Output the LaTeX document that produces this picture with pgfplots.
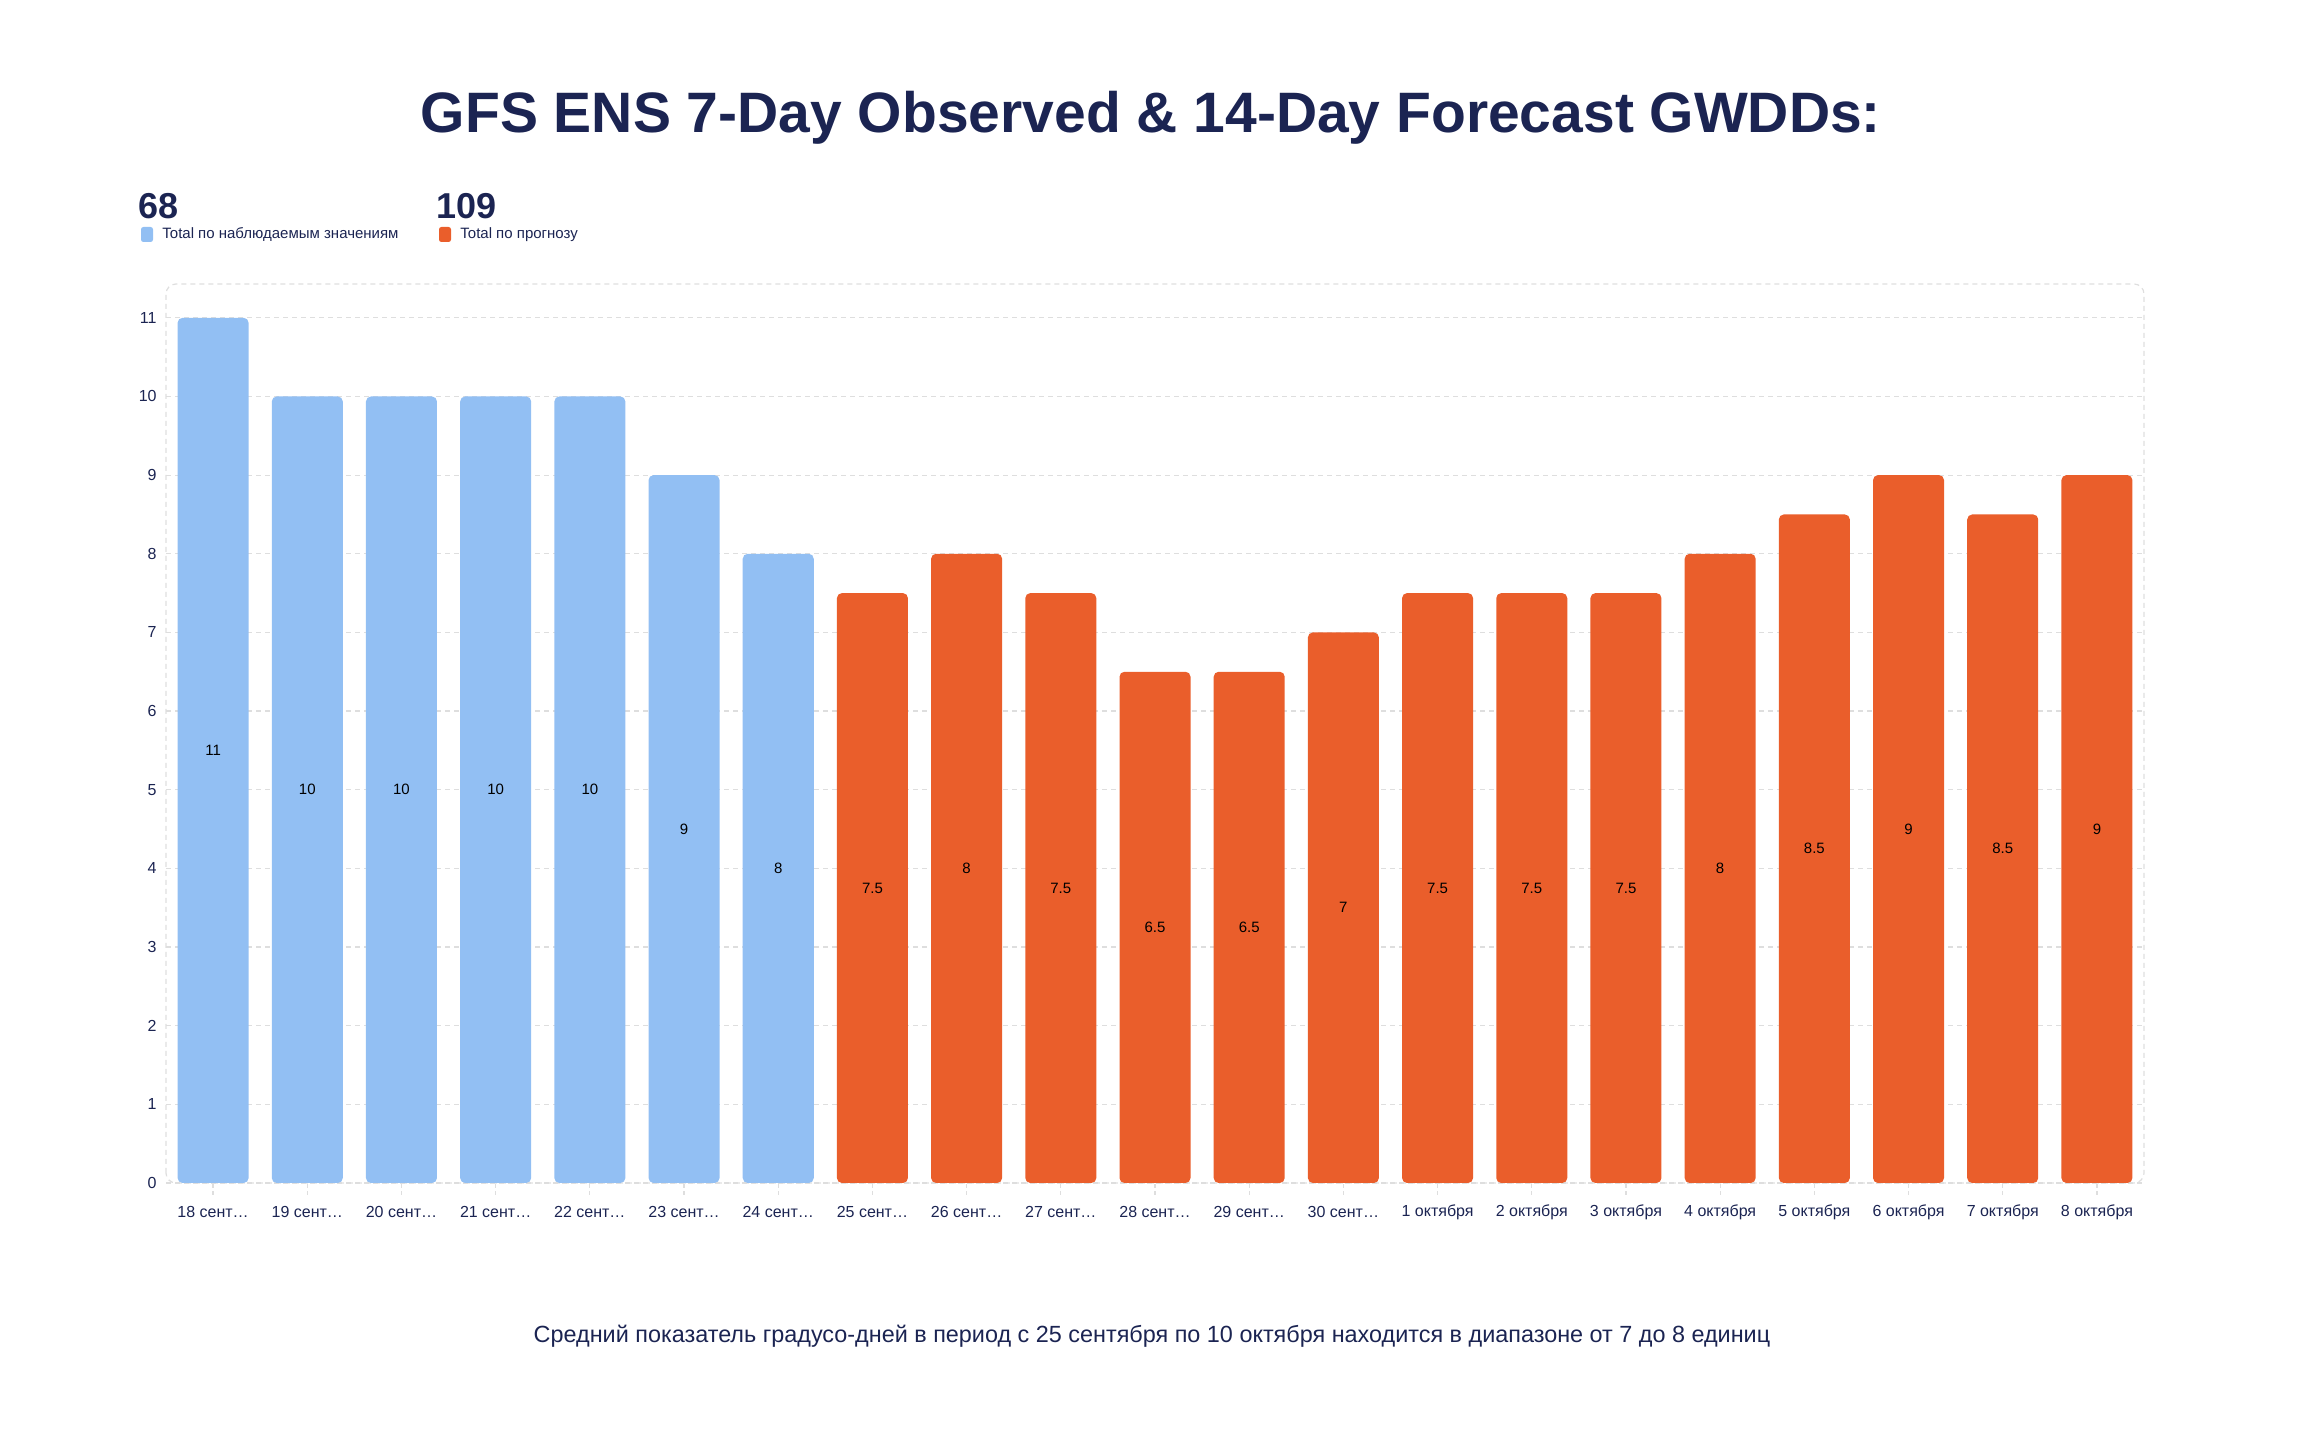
\documentclass[border=0pt]{standalone}
\usepackage{fontspec}
\setmainfont{Liberation Sans}
\usepackage{pgfplots}
\pgfplotsset{compat=1.18}
\definecolor{navy}{RGB}{27,36,82}
\definecolor{obsblue}{RGB}{146,191,243}
\definecolor{fcorange}{RGB}{234,94,43}
\definecolor{gridgray}{RGB}{222,222,222}
\begin{document}
\begin{tikzpicture}
\path[use as bounding box] (0,0) rectangle (1151bp,715.5bp);
\begin{axis}[
  at={(83bp,124bp)}, anchor=south west,
  width=989bp, height=449.5bp, scale only axis,
  xmin=-0.5, xmax=20.5, ymin=0, ymax=11.43,
  ybar, bar width=0.754, bar shift=0pt,
  xtick={0,...,20},
  xticklabels={18 сент…,19 сент…,20 сент…,21 сент…,22 сент…,23 сент…,24 сент…,25 сент…,26 сент…,27 сент…,28 сент…,29 сент…,30 сент…,1 октября,2 октября,3 октября,4 октября,5 октября,6 октября,7 октября,8 октября},
  ytick={0,...,11},
  ymajorgrids,
  grid style={gridgray, dash pattern=on 2.5bp off 2bp, line width=0.6bp},
  axis line style={draw=none},
  xtick pos=lower, ytick pos=left,
  tick align=outside, major tick length=6bp,
  xtick style={draw=gridgray, dash pattern=on 2bp off 1.5bp, line width=0.6bp},
  ytick style={draw=none},
  xticklabel style={font=\fontsize{8bp}{9bp}\selectfont, text=navy, anchor=center, inner sep=0pt, yshift=-8.5bp},
  yticklabel style={font=\fontsize{8bp}{9bp}\selectfont, text=navy, anchor=east, inner sep=0pt, xshift=1.5bp},
  /pgf/number format/assume math mode=true,
  clip=false,
  nodes near coords,
  visualization depends on={rawy \as \rawy},
  nodes near coords style={font=\fontsize{7.5bp}{9bp}\selectfont, text=black, anchor=center, yshift={-\rawy*19.74pt}},
]
\draw[gridgray, dash pattern=on 2.5bp off 2bp, line width=0.6bp, rounded corners=5bp] (rel axis cs:0,0) rectangle (rel axis cs:1,1);
\addplot[fill=obsblue, draw=none, rounded corners=2.5bp] coordinates {(0,11) (1,10) (2,10) (3,10) (4,10) (5,9) (6,8)};
\addplot[fill=fcorange, draw=none, rounded corners=2.5bp] coordinates {(7,7.5) (8,8) (9,7.5) (10,6.5) (11,6.5) (12,7) (13,7.5) (14,7.5) (15,7.5) (16,8) (17,8.5) (18,9) (19,8.5) (20,9)};
\end{axis}
\node[font=\fontsize{28.5bp}{34bp}\selectfont\bfseries, text=navy] at (575.5bp,656.5bp) {GFS ENS 7-Day Observed \& 14-Day Forecast GWDDs:};
\node[anchor=base west, inner sep=0pt, font=\fontsize{18bp}{20bp}\selectfont\bfseries, text=navy] at (69bp,606bp) {68};
\fill[obsblue, rounded corners=1.2bp] (70.5bp,594.5bp) rectangle (76.5bp,602bp);
\node[anchor=west, inner sep=0pt, font=\fontsize{7.5bp}{9bp}\selectfont, text=navy] at (81bp,598bp) {Total по наблюдаемым значениям};
\node[anchor=base west, inner sep=0pt, font=\fontsize{18bp}{20bp}\selectfont\bfseries, text=navy] at (218bp,606bp) {109};
\fill[fcorange, rounded corners=1.2bp] (219.5bp,594.5bp) rectangle (225.5bp,602bp);
\node[anchor=west, inner sep=0pt, font=\fontsize{7.5bp}{9bp}\selectfont, text=navy] at (230bp,598bp) {Total по прогнозу};
\node[font=\fontsize{11.7bp}{14bp}\selectfont, text=navy] at (576bp,47.5bp) {Средний показатель градусо-дней в период с 25 сентября по 10 октября находится в диапазоне от 7 до 8 единиц};
\end{tikzpicture}
\end{document}
